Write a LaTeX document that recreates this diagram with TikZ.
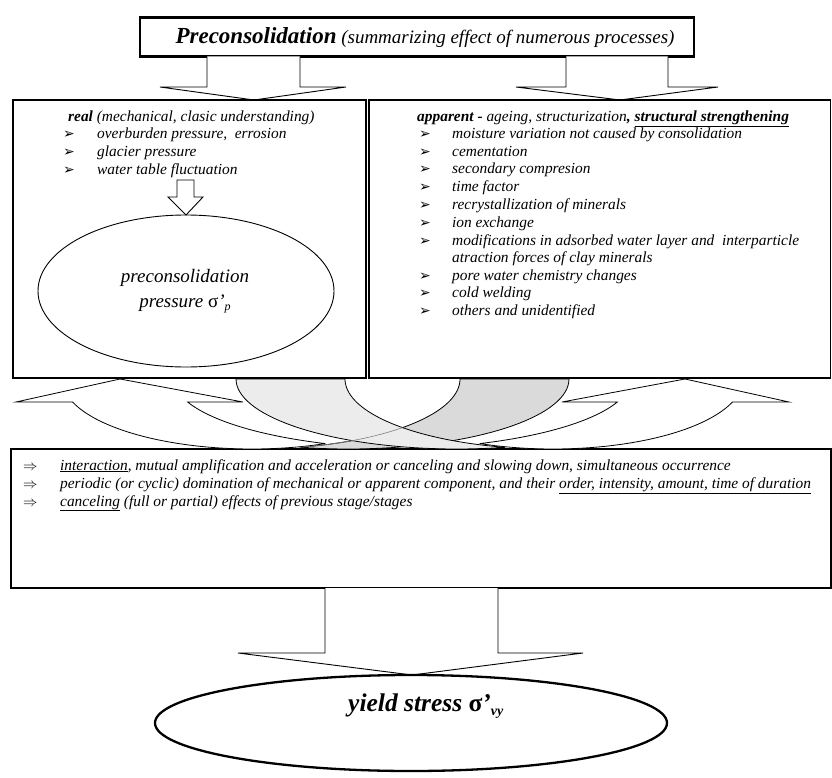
\documentclass[tikz,border=0pt]{standalone}
\usepackage{fontspec}
\setmainfont{Liberation Serif}
\newfontfamily\symfont{DejaVu Sans}
\usetikzlibrary{shapes.geometric}
\definecolor{lightface}{gray}{0.925}
\definecolor{darkface}{gray}{0.855}
\newcommand{\myfs}[1]{\fontsize{#1}{#1}\selectfont}
\newcommand{\curvedarrow}[1]{%
  \draw[fill=white, line width=0.8pt, line join=miter] (16,402) -- (120,379) -- (243,402) -- (188,402)
     -- plot[domain=160.8:112.7, variable=\t, samples=30] ({420+246*cos(\t)},{379+70*sin(\t)})
     -- plot[domain=67.3:160.8, variable=\t, samples=40] ({252+190*cos(\t)},{379+70*sin(\t)}) -- cycle;
  \draw[fill=#1, line width=0.8pt] (460,379)
     -- plot[domain=0:77.4, variable=\t, samples=40] ({255+205*cos(\t)},{379+70*sin(\t)})
     -- plot[domain=102.6:0, variable=\t, samples=40] ({348+221*cos(\t)},{379+70*sin(\t)}) -- cycle;
}
\begin{document}
\begin{tikzpicture}[x=1pt,y=-1pt,
  item/.style={anchor=base west, inner sep=0pt, font=\myfs{15.4}\itshape},
  bul/.style={anchor=base west, inner sep=0pt, font=\symfont\myfs{14}},
  arr/.style={anchor=base west, inner sep=0pt, font=\myfs{14}},
  blockarrow/.style={draw=black, line width=0.9pt, fill=white, line join=miter},
  box/.style={draw=black, line width=1.1pt, inner sep=0pt}]
\useasboundingbox (0,0) rectangle (832,778);

% top box
\node[box, line width=2.3pt, minimum width=554pt, minimum height=39pt] (top) at (417,37) {};
\node[anchor=base, inner sep=0pt, font=\myfs{19}\itshape] (title) at (425,44)
  {{\myfs{23}\bfseries Preconsolidation} (summarizing effect of numerous processes)};

% down arrows from top box
\draw[blockarrow] (207,56.5) -- (207,87) -- (160,87) -- (254,100) -- (346,87) -- (300,87) -- (300,56.5);
\draw[blockarrow] (566,56.5) -- (566,87) -- (516,87) -- (620,100) -- (718,87) -- (668,87) -- (668,56.5);

% two upper boxes
\node[box, minimum width=353pt, minimum height=278pt] (realbox) at (189.5,239) {};
\node[box, minimum width=461.5pt, minimum height=278pt] (appbox) at (599.75,239) {};

% left box text
\node[item] (r0) at (68,122) {\textbf{real} (mechanical, clasic understanding)};
\node[bul] (rb1) at (63,139) {➢};
\node[item] (r1) at (97,139) {overburden pressure,\ \ errosion};
\node[bul] (rb2) at (63,157) {➢};
\node[item] (r2) at (97,157) {glacier pressure};
\node[bul] (rb3) at (63,175) {➢};
\node[item] (r3) at (97,175) {water table fluctuation};

% small arrow
\draw[blockarrow] (177,180) -- (177,197) -- (168,197) -- (186,215) -- (203,197) -- (194,197) -- (194,180) -- cycle;

% preconsolidation ellipse
\node[ellipse, draw, line width=0.9pt, minimum width=296pt, minimum height=152pt, inner sep=0pt] (pc) at (186,291) {};
\node[anchor=base, inner sep=0pt, font=\myfs{19}\itshape] (pc1) at (185,282) {preconsolidation};
\node[anchor=base, inner sep=0pt, font=\myfs{19}\itshape] (pc2) at (185,307) {pressure \textup{σ}’\raisebox{-3pt}{\myfs{12}p}};

% right box text
\node[item] (a0) at (417,122) {\textbf{apparent -} ageing, structurization\textbf{, \underline{structural strengthening}}};
\foreach \yy/\tx [count=\i] in {139/moisture variation not caused by consolidation,
  157/cementation, 174/secondary compresion, 192/time factor,
  209/recrystallization of minerals, 227/ion exchange,
  245/modifications in adsorbed water layer and\ \ interparticle,
  280/pore water chemistry changes, 297/cold welding, 315/others and unidentified}{
  \node[bul] (ab\i) at (419,\yy) {➢};
  \node[item] (a\i) at (452,\yy) {\tx};
}
\node[item] (a7b) at (452,262) {atraction forces of clay minerals};

% bottom box
\node[box, line width=1.2pt, minimum width=820pt, minimum height=139pt] (interbox) at (421,518.5) {};
\node[arr] (ib1) at (23,470) {$\Rightarrow$};
\node[item] (i1) at (60,470) {\underline{interaction}, mutual amplification and acceleration or canceling and slowing down, simultaneous occurrence};
\node[arr] (ib2) at (23,488) {$\Rightarrow$};
\node[item] (i2) at (60,488) {periodic (or cyclic) domination of mechanical or apparent component, and their \underline{order, intensity, amount, time of duration}};
\node[arr] (ib3) at (23,506) {$\Rightarrow$};
\node[item] (i3) at (60,506) {\underline{canceling} (full or partial) effects of previous stage/stages};

% curved arrows
\curvedarrow{darkface}
\begin{scope}[xshift=805pt, xscale=-1]
\curvedarrow{lightface}
\end{scope}
\draw[gray, line width=0.6pt] plot[domain=44:77.4, variable=\t, samples=20] ({255+205*cos(\t)},{379+70*sin(\t)});

% bottom arrow and ellipse
\draw[blockarrow] (325,588) -- (325,653) -- (238,653) -- (412,675) -- (583,653) -- (498,653) -- (498,588);
\node[ellipse, draw, line width=2.3pt, minimum width=512pt, minimum height=96pt, inner sep=0pt] (ys) at (411,723) {};
\node[anchor=base west, inner sep=0pt, font=\myfs{25.5}\bfseries\itshape] (yst) at (348,711) {yield stress \textup{σ}’\raisebox{-4pt}{\myfs{14}vy}};
\end{tikzpicture}
\end{document}
